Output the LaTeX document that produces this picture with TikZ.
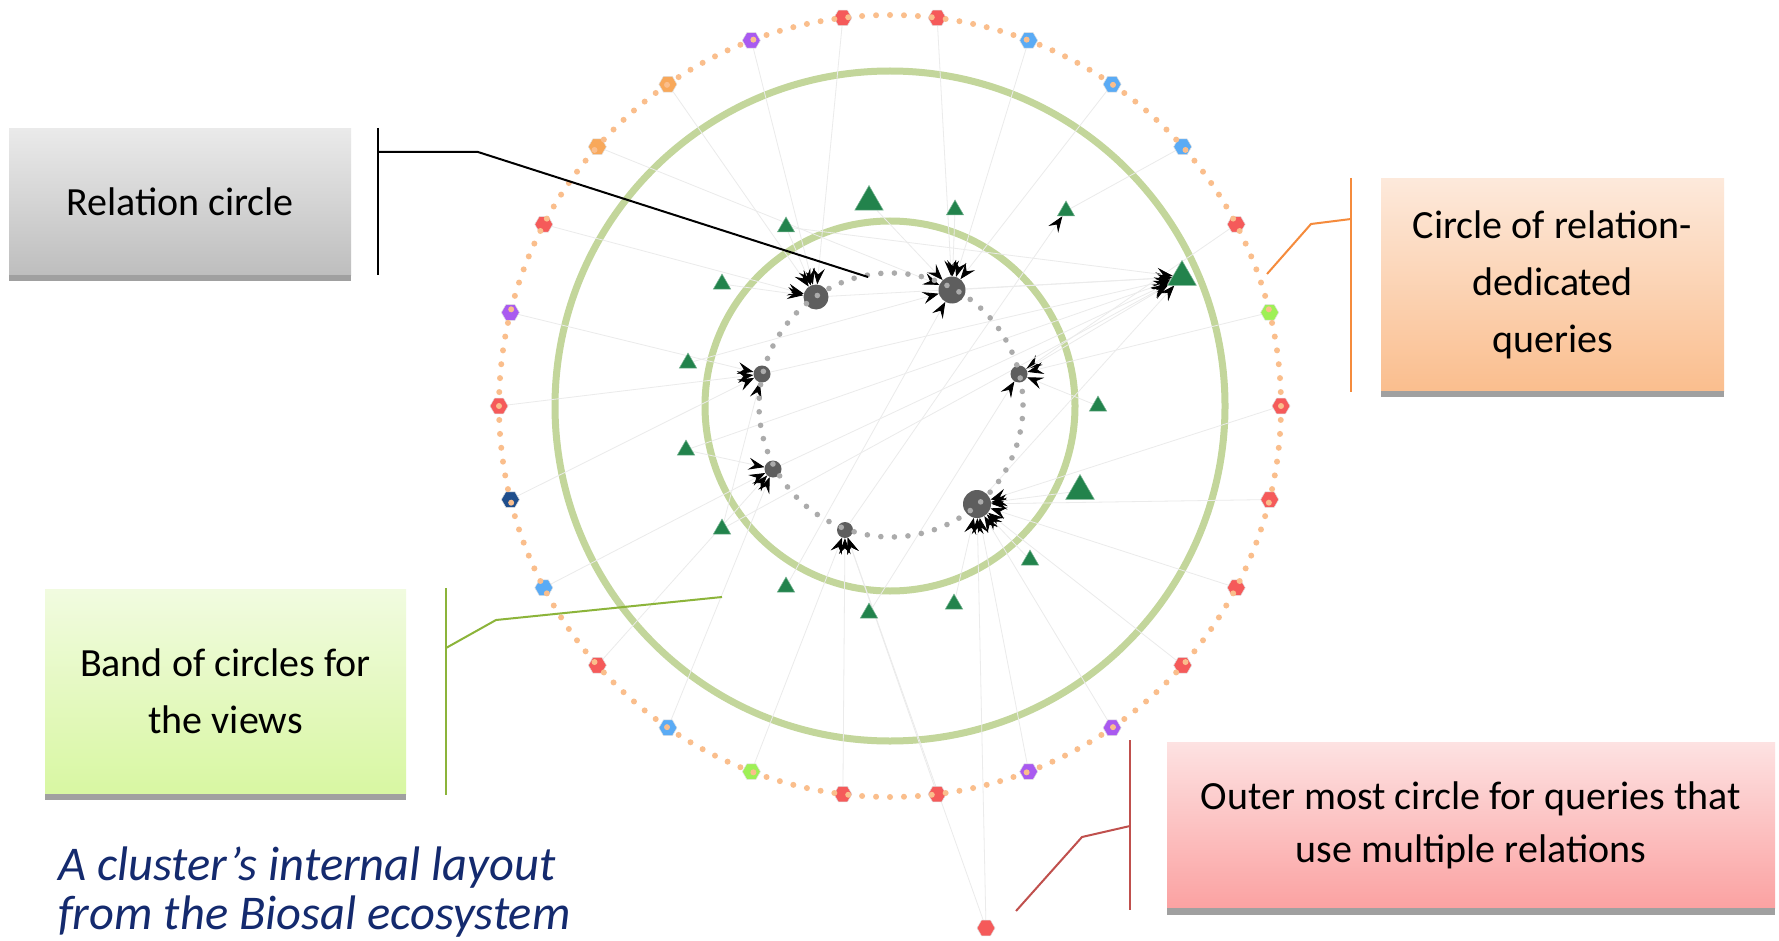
\documentclass[tikz,border=0pt]{standalone}
\usepackage{fontspec}
\setmainfont{Carlito}
\usetikzlibrary{shapes.geometric,arrows.meta}
\definecolor{ringgreen}{HTML}{C3D69B}
\definecolor{peach}{HTML}{FABE8C}
\definecolor{reldot}{HTML}{ABABAB}
\definecolor{relfill}{HTML}{5E5E5E}
\definecolor{trigreen}{HTML}{22834C}
\definecolor{hred}{HTML}{F55A5A}
\definecolor{hblue}{HTML}{5AABF5}
\definecolor{hpurple}{HTML}{A95AF0}
\definecolor{hlime}{HTML}{9EF056}
\definecolor{horange}{HTML}{F8A85A}
\definecolor{hdblue}{HTML}{1F4E8C}
\definecolor{edgegray}{HTML}{EBEBEB}
\definecolor{capblue}{HTML}{142A6E}
\definecolor{stripgray}{HTML}{A0A0A0}
\definecolor{lorange}{HTML}{F58B3C}
\definecolor{lgreen}{HTML}{8CB43A}
\definecolor{lred}{HTML}{C0504D}
\definecolor{graytop}{HTML}{EAEAEA}
\definecolor{graybot}{HTML}{BEBEBE}
\definecolor{orangetop}{HTML}{FDE9DB}
\definecolor{orangebot}{HTML}{FABE8E}
\definecolor{greentop}{HTML}{F1FBE0}
\definecolor{greenbot}{HTML}{D8F7A2}
\definecolor{redtop}{HTML}{FDE2E2}
\definecolor{redbot}{HTML}{FBA2A2}
\pgfdeclarelayer{bg}
\pgfdeclarelayer{edgelayer}
\pgfsetlayers{bg,edgelayer,main}
\begin{document}
\begin{tikzpicture}[x=1pt,y=-1pt,
  hexnode/.style={regular polygon,regular polygon sides=6,minimum size=18pt,inner sep=0pt,draw=black!12,line width=0.5pt},
  trinode/.style={regular polygon,regular polygon sides=3,minimum size=20pt,inner sep=0pt,fill=trigreen,draw=trigreen!60!white,line width=0.5pt},
  bigtri/.style={trinode,minimum size=33pt},
  relnode/.style={circle,fill=relfill,inner sep=0pt,minimum size=#1},
  conn/.style={draw=edgegray,line width=0.8pt,-{Stealth[color=black,length=16pt,width=12pt,inset=6pt]}},
  faint/.style={draw=edgegray,line width=0.8pt},
  greenring/.style={draw=ringgreen,line width=7pt},
  calloutbox/.style={rectangle,inner sep=0pt,align=center,text=black,font=\fontsize{40}{57}\selectfont},
  bracket/.style={line width=2pt},
  captext/.style={anchor=base west,inner sep=0pt,text=capblue,font=\fontsize{48.5}{56}\selectfont\itshape},
]
\useasboundingbox (0,0) rectangle (1779,941);
\begin{pgfonlayer}{bg}
\fill[white] (0,0) rectangle (1779,941);
\coordinate (C) at (890,406);
\draw[greenring] (C) circle (335pt);
\draw[greenring] (C) circle (185pt);
\end{pgfonlayer}

% hexagons on the outer circle
\foreach \k/\c in {0/hred,1/hblue,2/hblue,3/hblue,4/hred,5/hlime,6/hred,7/hred,8/hred,9/hred,10/hpurple,11/hpurple,12/hred,13/hred,14/hlime,15/hblue,16/hred,17/hblue,18/hdblue,19/hred,20/hpurple,21/hred,22/horange,23/horange,24/hpurple,25/hred}
  \node[hexnode,fill=\c] (h\k) at ({890+391*cos(83.077-13.846*\k)},{406-391*sin(83.077-13.846*\k)}) {};
\node[hexnode,fill=hred] (ext) at (986,928) {};

% triangles
\node[bigtri] (t1) at (869,202) {};
\node[trinode] (t2) at (955,210) {};
\node[trinode] (t3) at (786,227) {};
\node[trinode] (t4) at (1066,211) {};
\node[bigtri] (t5) at (1182,277) {};
\node[trinode] (t6) at (722,284) {};
\node[trinode] (t7) at (688,363) {};
\node[trinode] (t8) at (1098,406) {};
\node[trinode] (t9) at (686,450) {};
\node[bigtri] (t10) at (1080,491) {};
\node[trinode] (t11) at (722,529) {};
\node[trinode] (t12) at (1030,560) {};
\node[trinode] (t13) at (786,587) {};
\node[trinode] (t14) at (954,604) {};
\node[trinode] (t15) at (869,613) {};

% relation nodes
\node[relnode=25pt] (n1) at (816,297) {};
\node[relnode=27pt] (n2) at (952,290) {};
\node[relnode=17pt] (n3) at (1019,374) {};
\node[relnode=28pt] (n4) at (977,504) {};
\node[relnode=16pt] (n5) at (845,530) {};
\node[relnode=17pt] (n6) at (773,469) {};
\node[relnode=17pt] (n7) at (762,374) {};

\begin{pgfonlayer}{edgelayer}
\foreach \s/\t in {h25/n1,h24/n1,h23/n1,h21/n1,t3/n1,t6/n1,
  h0/n2,h1/n2,h2/n2,h22/n2,t1/n2,t2/n2,t13/n2,t7/n2,
  h4/n3,h5/n3,t8/n3,t15/n3,
  h6/n4,h7/n4,h8/n4,h9/n4,h10/n4,h11/n4,t10/n4,t12/n4,t14/n4,ext/n4,
  h12/n5,h13/n5,h14/n5,ext/n5,
  h15/n6,h16/n6,h17/n6,t9/n6,
  h19/n7,h20/n7,h18/n7,t11/n7,
  n1/t5,n2/t5,n3/t5,n4/t5,n6/t5,n7/t5,t9/t5,t11/t5,t3/t5,
  n5/t4}
  \draw[conn] (\s) -- (\t);
\draw[faint] (h3) -- (t4);
\end{pgfonlayer}

% dotted circles
\foreach \i in {0,...,175}
  \fill[peach] ({890+391*cos(\i*2.04545)},{406-391*sin(\i*2.04545)}) circle (3pt);
\foreach \i in {0,...,60}
  \fill[reldot] ({891+132*cos(\i*5.90164)},{405-132*sin(\i*5.90164)}) circle (2.8pt);

% callout boxes
\node[calloutbox,minimum width=342pt,minimum height=146pt,top color=graytop,bottom color=graybot] (relbox) at (180,202) {Relation circle};
\fill[stripgray] (relbox.south west) rectangle ++(342,6);
\node[calloutbox,minimum width=343pt,minimum height=212pt,top color=orangetop,bottom color=orangebot] (orbox) at (1552.5,285) {Circle of relation-\\dedicated\\queries};
\fill[stripgray] (orbox.south west) rectangle ++(343,6);
\node[calloutbox,minimum width=361pt,minimum height=205pt,top color=greentop,bottom color=greenbot] (grbox) at (225.5,691.5) {Band of circles for\\the views};
\fill[stripgray] (grbox.south west) rectangle ++(361,6);
\node[calloutbox,font=\fontsize{40}{53}\selectfont,minimum width=608pt,minimum height=166pt,top color=redtop,bottom color=redbot] (redbox) at (1471,825) {Outer most circle for queries that\\use multiple relations};
\fill[stripgray] (redbox.south west) rectangle ++(608,7);

% brackets
\coordinate (rb1) at (378,128); \coordinate (rb2) at (378,275);
\coordinate (rk0) at (378,152); \coordinate (rk1) at (478,152); \coordinate (rt) at (868,277);
\draw[bracket,black] (rb1) -- (rb2);
\draw[bracket,black] (rk0) -- (rk1) -- (rt);
\coordinate (ob1) at (1351,178); \coordinate (ob2) at (1351,392);
\coordinate (ok0) at (1351,219); \coordinate (ok1) at (1311,224); \coordinate (ot) at (1267,274);
\draw[bracket,lorange] (ob1) -- (ob2);
\draw[bracket,lorange] (ok0) -- (ok1) -- (ot);
\coordinate (gb1) at (446,588); \coordinate (gb2) at (446,795);
\coordinate (gk0) at (446,648); \coordinate (gk1) at (496,620); \coordinate (gt) at (722,597);
\draw[bracket,lgreen] (gb1) -- (gb2);
\draw[bracket,lgreen] (gk0) -- (gk1) -- (gt);
\coordinate (qb1) at (1130,740); \coordinate (qb2) at (1130,910);
\coordinate (qk0) at (1130,826); \coordinate (qk1) at (1082,837); \coordinate (qt) at (1016,911);
\draw[bracket,lred] (qb1) -- (qb2);
\draw[bracket,lred] (qk0) -- (qk1) -- (qt);

% caption
\node[captext] (cap1) at (58,880) {A cluster’s internal layout};
\node[captext] (cap2) at (58,929) {from the Biosal ecosystem};
\end{tikzpicture}
\end{document}
